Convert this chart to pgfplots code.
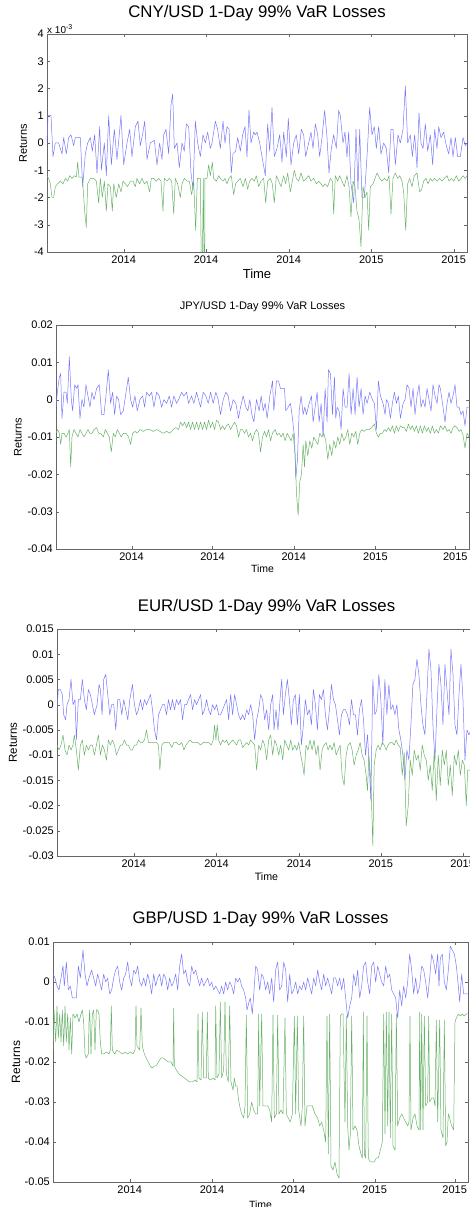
\documentclass[border=0pt]{standalone}
\usepackage{fontspec}
\setmainfont{Liberation Sans}
\usepackage{pgfplots}
\pgfplotsset{compat=1.18}
\definecolor{retblue}{RGB}{120,120,250}
\definecolor{vargreen}{RGB}{105,178,105}
\pgfplotsset{
  matlab/.style={
    scale only axis, anchor=south west,
    tick align=inside, major tick length=3pt,
    axis line style={black!60}, tick style={black!60},
    scaled y ticks=false, scaled x ticks=false,
    xtick={#1}, xticklabels={2014,2014,2014,2015,2015},
    xticklabel style={anchor=north, inner sep=0pt, yshift=-4pt},
    yticklabel style={anchor=east, inner sep=0pt, xshift=-3pt},
    every axis plot/.append style={line width=0.5pt, line join=round},
    clip mode=individual,
  },
}
\begin{document}
\begin{tikzpicture}
\useasboundingbox (0,0) rectangle (470pt,1207pt);
% ---------------- CNY ----------------
\begin{axis}[matlab={370,617,865,1113,1360},
  at={(47pt,955pt)}, width=420pt, height=218pt,
  xmin=140, xmax=1400, ymin=-4, ymax=4,
  ytick={-4,-3,-2,-1,0,1,2,3,4}, yticklabels={-4,-3,-2,-1,0,1,2,3,4},
  ticklabel style={font=\fontsize{11}{13}\selectfont},
  title={CNY/USD 1-Day 99\% VaR Losses},
  title style={font=\fontsize{16.8}{19}\selectfont, at={(axis description cs:0.5,1.069)}, anchor=center},
  xlabel={Time}, xlabel style={font=\fontsize{13}{15}\selectfont, at={(axis description cs:0.5,-0.101)}, anchor=center},
  ylabel={Returns}, ylabel style={font=\fontsize{11}{13}\selectfont, at={(axis description cs:-0.057,0.5)}, anchor=center},
]
\addplot[retblue] coordinates {(140,0)(143,1.0)(152,1.0)(158,-0.5)(165,0)(175,0)(185,-0.4)(190,0.2)(198,-0.4)(205,0.2)(212,0.3)(220,-0.1)(225,0.2)(232,0.2)(240,0.2)(247,-1.6)(255,-0.4)(262,0)(270,0.2)(276,-0.3)(283,0.3)(290,-1.1)(298,0.6)(303,-1.0)(312,0)(318,-1.2)(325,1.0)(333,-0.8)(342,0.5)(350,-0.6)(362,1.0)(370,-0.8)(380,0)(388,0.5)(395,-0.5)(405,0.6)(413,0.8)(420,-0.1)(428,0.4)(433,0.8)(440,-0.6)(450,0)(462,0.1)(470,-0.8)(478,0)(485,-0.6)(490,0.3)(497,0.5)(505,-0.4)(512,1.4)(517,1.8)(522,-0.2)(530,0)(537,-0.9)(545,0)(552,-0.3)(558,0.7)(565,0.6)(572,-1.1)(578,-1.7)(585,0.8)(592,0)(600,-0.5)(608,0.3)(615,0)(622,0.4)(630,-0.2)(635,0)(645,0.8)(652,0.5)(660,-0.2)(668,0.8)(674,0)(680,0.6)(686,0.5)(693,-1.1)(698,-0.4)(706,-0.3)(712,0.2)(720,-0.3)(727,0.3)(734,0.6)(740,-0.5)(746,1.2)(752,0)(760,0.4)(765,0.3)(770,0.4)(778,0)(785,-0.5)(795,-1.2)(802,0.7)(808,-0.3)(815,1.3)(822,-0.5)(830,-0.2)(838,0.3)(845,-0.7)(850,0.4)(858,-0.5)(864,0.9)(872,-0.8)(880,0)(888,0.3)(895,-0.4)(903,0.5)(910,0.3)(916,-0.5)(925,0)(932,0.4)(938,-0.2)(945,0.7)(952,0.3)(958,-0.5)(965,0.2)(973,1.2)(980,0.2)(986,-1.1)(993,-0.2)(1000,0.3)(1008,-0.2)(1015,1.2)(1020,1.0)(1028,0)(1034,0.4)(1040,-0.5)(1045,0.4)(1052,-1.5)(1060,-2.2)(1067,0.5)(1073,-1.7)(1078,0.5)(1085,-2.0)(1092,-2.0)(1100,-0.5)(1108,1.3)(1115,0.3)(1122,0.6)(1128,-0.2)(1135,0.6)(1142,-0.4)(1150,0)(1158,-0.2)(1165,-1.1)(1172,0.5)(1178,0.5)(1185,-0.8)(1193,0.3)(1200,0)(1208,0.5)(1215,2.1)(1222,0)(1230,0.3)(1236,-0.5)(1243,0.3)(1250,-0.9)(1256,1.1)(1262,0)(1268,-0.2)(1275,0.7)(1282,-0.3)(1290,0.3)(1297,-0.8)(1303,0.5)(1310,-0.2)(1315,0.6)(1322,0.2)(1330,0.4)(1338,-0.1)(1345,-0.4)(1352,0.2)(1358,-0.5)(1365,0.2)(1372,-0.5)(1380,-0.5)(1388,0.2)(1395,-0.1)(1400,0)};
\addplot[vargreen] coordinates {(140,-1.2)(145,-1.3)(150,-1.5)(155,-2.0)(160,-2.0)(165,-1.6)(172,-1.5)(180,-1.4)(188,-1.5)(195,-1.3)(202,-1.4)(208,-1.2)(215,-1.3)(222,-1.2)(228,-1.25)(232,-0.7)(236,-1.25)(245,-1.25)(248,-1.6)(253,-2.5)(258,-3.1)(262,-1.5)(270,-1.3)(280,-1.3)(288,-1.4)(295,-2.2)(300,-1.3)(306,-2.0)(312,-1.4)(318,-2.5)(323,-1.5)(330,-1.6)(336,-2.5)(340,-1.5)(348,-2.0)(355,-1.5)(362,-1.8)(368,-1.4)(375,-1.5)(382,-1.6)(390,-1.4)(398,-1.4)(405,-1.6)(410,-1.3)(418,-1.5)(425,-1.3)(432,-1.5)(440,-1.4)(448,-1.8)(453,-1.3)(460,-1.3)(468,-1.4)(475,-1.3)(482,-1.4)(488,-2.5)(492,-1.3)(500,-1.4)(507,-1.3)(514,-1.4)(520,-2.6)(525,-1.3)(532,-1.5)(540,-2.0)(545,-1.5)(552,-1.3)(560,-1.4)(567,-1.4)(574,-1.9)(580,-1.4)(586,-3.2)(591,-1.3)(597,-1.3)(600,-1.3)(603,-4.5)(606,-4.5)(609,-1.3)(611,-4.5)(613,-4.5)(614,-1.3)(620,-1.3)(625,-0.8)(630,-1.2)(636,-0.7)(640,-1.3)(648,-1.4)(655,-1.2)(660,-1.3)(668,-1.4)(674,-1.3)(680,-1.5)(686,-1.3)(693,-1.2)(700,-1.9)(706,-1.5)(712,-1.4)(720,-1.3)(728,-1.6)(735,-1.3)(742,-1.7)(748,-1.4)(755,-1.3)(762,-1.4)(768,-1.2)(775,-1.6)(782,-1.4)(790,-1.3)(796,-2.2)(802,-1.4)(810,-1.3)(816,-1.5)(822,-2.2)(828,-1.2)(835,-1.4)(842,-1.6)(850,-1.2)(856,-1.5)(862,-1.1)(870,-1.8)(876,-1.4)(882,-1.0)(888,-1.3)(895,-1.4)(902,-1.1)(910,-1.4)(918,-1.3)(925,-1.2)(932,-1.4)(940,-1.3)(948,-1.5)(955,-1.4)(962,-1.5)(968,-1.6)(975,-1.5)(982,-1.6)(990,-1.3)(996,-1.4)(1000,-2.6)(1005,-1.2)(1012,-1.4)(1018,-1.2)(1025,-1.4)(1032,-1.6)(1040,-1.2)(1046,-1.6)(1052,-2.7)(1058,-1.4)(1064,-1.6)(1070,-2.5)(1076,-2.8)(1082,-3.8)(1088,-1.6)(1094,-2.0)(1100,-1.8)(1105,-3.2)(1110,-1.6)(1118,-1.5)(1124,-1.3)(1130,-1.1)(1138,-1.3)(1145,-1.4)(1152,-1.3)(1160,-1.4)(1166,-1.2)(1172,-2.6)(1178,-1.3)(1185,-1.1)(1192,-1.3)(1198,-1.2)(1205,-1.4)(1210,-1.8)(1216,-3.2)(1222,-1.5)(1228,-1.3)(1235,-1.6)(1242,-1.2)(1250,-1.1)(1258,-1.8)(1264,-1.7)(1270,-1.4)(1277,-1.3)(1283,-1.5)(1290,-1.3)(1296,-1.4)(1303,-1.3)(1310,-1.4)(1318,-1.3)(1325,-1.4)(1332,-1.3)(1340,-1.2)(1346,-1.4)(1353,-1.3)(1360,-1.4)(1368,-1.2)(1375,-1.4)(1382,-1.3)(1388,-1.2)(1395,-1.3)(1400,-1.2)};
\node[anchor=south west, inner sep=0pt, font=\fontsize{10}{12}\selectfont] at (rel axis cs:0,1) {x 10\raisebox{0.7ex}{\fontsize{7}{8}\selectfont -3}};
\end{axis}
% ---------------- JPY ----------------
\begin{axis}[matlab={395,638,882,1127,1367},
  at={(56pt,658pt)}, width=413pt, height=224pt,
  xmin=168, xmax=1408, ymin=-0.04, ymax=0.02,
  ytick={-0.04,-0.03,-0.02,-0.01,0,0.01,0.02}, yticklabels={-0.04,-0.03,-0.02,-0.01,0,0.01,0.02},
  ticklabel style={font=\fontsize{11}{13}\selectfont},
  title={JPY/USD 1-Day 99\% VaR Losses},
  title style={font=\fontsize{11}{13}\selectfont, at={(axis description cs:0.5,1.054)}, anchor=center},
  xlabel={Time}, xlabel style={font=\fontsize{10.5}{12}\selectfont, at={(axis description cs:0.5,-0.089)}, anchor=center},
  ylabel={Returns}, ylabel style={font=\fontsize{11}{13}\selectfont, at={(axis description cs:-0.092,0.5)}, anchor=center},
]
\addplot[retblue] coordinates {(168,-0.002)(172,0.002)(178,0.006)(182,0.007)(186,-0.005)(192,0.002)(198,0.002)(202,-0.001)(208,0.0115)(214,0)(218,-0.003)(224,0.004)(230,0.003)(234,0.004)(240,-0.005)(246,0)(252,-0.002)(258,0.004)(264,0.001)(270,-0.002)(276,0.002)(282,0)(290,0.003)(298,0.004)(305,-0.004)(312,-0.004)(318,0.001)(325,0.008)(332,-0.001)(338,0.002)(344,-0.004)(350,0.001)(356,0)(362,-0.004)(370,-0.003)(380,0.003)(385,0.006)(392,0)(398,-0.002)(405,0.001)(412,-0.003)(420,0)(428,0.001)(434,-0.002)(440,0.002)(448,0.001)(455,0.002)(462,-0.002)(470,0.002)(478,0.001)(485,-0.002)(492,0)(500,-0.001)(508,0.001)(515,-0.002)(522,0.001)(530,-0.001)(536,0)(545,0.002)(552,0.001)(560,0.002)(566,-0.001)(575,0.001)(582,-0.001)(590,0.002)(596,0)(602,-0.002)(610,0.002)(618,0.001)(625,-0.001)(632,0.002)(640,-0.001)(648,0.002)(655,0)(662,-0.004)(670,0)(678,0.002)(685,0.001)(692,-0.003)(700,0)(708,-0.001)(716,-0.005)(722,-0.002)(730,0.001)(738,-0.002)(744,-0.003)(750,0)(756,-0.004)(762,-0.006)(770,0)(778,-0.003)(784,0.001)(790,-0.003)(796,-0.001)(802,-0.005)(810,0.001)(818,0.005)(822,-0.003)(830,0.005)(836,0.005)(842,0.003)(848,0.003)(854,0.003)(858,-0.003)(865,-0.002)(872,-0.001)(878,-0.005)(884,-0.010)(888,-0.021)(893,-0.016)(898,-0.003)(904,0.001)(910,-0.004)(915,-0.002)(920,-0.004)(928,-0.001)(935,0.001)(940,-0.006)(946,-0.002)(952,0.002)(958,-0.006)(964,-0.001)(970,-0.010)(976,0.003)(982,-0.006)(986,0.008)(992,0.007)(998,-0.004)(1004,0.006)(1008,-0.005)(1012,-0.002)(1018,-0.003)(1024,-0.008)(1030,0.003)(1036,-0.002)(1042,-0.002)(1048,0.007)(1054,-0.004)(1060,0.003)(1066,-0.004)(1072,0.006)(1078,-0.002)(1084,0.003)(1090,-0.004)(1096,0.001)(1102,-0.001)(1110,0.002)(1118,0)(1124,-0.001)(1130,-0.008)(1136,0.005)(1142,0.001)(1150,-0.001)(1156,-0.004)(1160,0)(1166,-0.001)(1172,-0.005)(1178,-0.001)(1184,0.002)(1190,-0.001)(1196,0.001)(1202,-0.005)(1210,-0.001)(1216,0)(1222,0.004)(1228,0.003)(1234,-0.002)(1240,0.003)(1246,-0.004)(1252,0.001)(1258,0.004)(1264,-0.002)(1270,0)(1276,-0.002)(1282,0.003)(1288,0)(1294,-0.003)(1300,0.004)(1306,0.001)(1312,-0.001)(1318,0.004)(1322,0.003)(1330,-0.002)(1336,-0.006)(1342,-0.001)(1348,0.002)(1354,-0.001)(1360,0.001)(1366,0.004)(1372,-0.002)(1378,-0.002)(1384,-0.004)(1390,-0.003)(1396,-0.007)(1402,-0.002)(1408,-0.002)};
\addplot[vargreen] coordinates {(168,-0.009)(172,-0.008)(178,-0.009)(182,-0.012)(186,-0.009)(192,-0.009)(198,-0.010)(204,-0.009)(208,-0.008)(212,-0.018)(216,-0.010)(222,-0.008)(228,-0.009)(234,-0.010)(240,-0.008)(246,-0.009)(252,-0.010)(258,-0.009)(264,-0.008)(270,-0.009)(276,-0.009)(282,-0.008)(290,-0.0075)(296,-0.009)(302,-0.009)(310,-0.010)(316,-0.008)(322,-0.009)(328,-0.010)(334,-0.014)(340,-0.009)(346,-0.010)(352,-0.008)(358,-0.009)(364,-0.010)(370,-0.009)(378,-0.009)(386,-0.010)(392,-0.012)(398,-0.009)(405,-0.0085)(412,-0.009)(420,-0.008)(430,-0.0085)(440,-0.008)(450,-0.008)(460,-0.0085)(470,-0.008)(480,-0.0085)(490,-0.009)(500,-0.0085)(510,-0.009)(520,-0.008)(528,-0.0075)(536,-0.008)(542,-0.006)(548,-0.007)(554,-0.006)(560,-0.0075)(566,-0.006)(572,-0.008)(578,-0.006)(584,-0.008)(590,-0.006)(596,-0.008)(602,-0.006)(608,-0.008)(614,-0.006)(620,-0.008)(626,-0.0055)(632,-0.0075)(638,-0.006)(644,-0.008)(650,-0.0055)(656,-0.006)(662,-0.008)(668,-0.007)(674,-0.008)(680,-0.007)(686,-0.0065)(692,-0.008)(698,-0.007)(704,-0.006)(710,-0.007)(716,-0.010)(722,-0.008)(728,-0.008)(734,-0.009)(740,-0.008)(746,-0.010)(752,-0.009)(758,-0.011)(764,-0.009)(770,-0.008)(776,-0.009)(782,-0.014)(788,-0.010)(794,-0.0085)(800,-0.010)(806,-0.008)(812,-0.011)(818,-0.009)(826,-0.008)(832,-0.0095)(838,-0.009)(844,-0.010)(850,-0.009)(856,-0.011)(862,-0.009)(868,-0.010)(874,-0.011)(880,-0.009)(886,-0.015)(890,-0.025)(895,-0.031)(900,-0.022)(905,-0.020)(910,-0.012)(914,-0.018)(918,-0.011)(924,-0.015)(930,-0.011)(936,-0.013)(942,-0.010)(948,-0.011)(954,-0.012)(960,-0.009)(966,-0.010)(972,-0.009)(978,-0.011)(984,-0.016)(990,-0.012)(996,-0.015)(1002,-0.011)(1008,-0.013)(1014,-0.010)(1020,-0.012)(1026,-0.009)(1032,-0.011)(1038,-0.010)(1044,-0.008)(1050,-0.012)(1056,-0.009)(1062,-0.010)(1068,-0.0085)(1074,-0.012)(1080,-0.009)(1086,-0.008)(1092,-0.0085)(1100,-0.008)(1108,-0.008)(1116,-0.0075)(1124,-0.0065)(1130,-0.009)(1136,-0.010)(1142,-0.009)(1148,-0.009)(1154,-0.008)(1160,-0.0085)(1166,-0.0075)(1172,-0.0085)(1178,-0.007)(1184,-0.009)(1190,-0.007)(1196,-0.0085)(1202,-0.007)(1208,-0.0075)(1214,-0.0075)(1220,-0.0085)(1226,-0.0065)(1232,-0.008)(1238,-0.007)(1244,-0.0085)(1250,-0.007)(1256,-0.009)(1262,-0.007)(1268,-0.009)(1274,-0.007)(1280,-0.0085)(1286,-0.0075)(1292,-0.009)(1298,-0.007)(1304,-0.009)(1310,-0.008)(1316,-0.009)(1322,-0.007)(1330,-0.008)(1336,-0.007)(1342,-0.0085)(1348,-0.008)(1354,-0.009)(1360,-0.0075)(1366,-0.007)(1372,-0.0075)(1378,-0.0085)(1384,-0.008)(1390,-0.0095)(1396,-0.013)(1402,-0.009)(1408,-0.010)};
\end{axis}
% ---------------- EUR ----------------
\begin{axis}[matlab={400,648,895,1140,1385},
  at={(57pt,351pt)}, width=419pt, height=227pt,
  xmin=170, xmax=1425, ymin=-0.03, ymax=0.015,
  ytick={-0.03,-0.025,-0.02,-0.015,-0.01,-0.005,0,0.005,0.01,0.015}, yticklabels={-0.03,-0.025,-0.02,-0.015,-0.01,-0.005,0,0.005,0.01,0.015},
  ticklabel style={font=\fontsize{11}{13}\selectfont},
  title={EUR/USD 1-Day 99\% VaR Losses},
  title style={font=\fontsize{16.8}{19}\selectfont, at={(axis description cs:0.5,1.0705)}, anchor=center},
  xlabel={Time}, xlabel style={font=\fontsize{10.7}{12}\selectfont, at={(axis description cs:0.5,-0.0925)}, anchor=center},
  ylabel={Returns}, ylabel style={font=\fontsize{11.5}{13}\selectfont, at={(axis description cs:-0.105,0.5)}, anchor=center},
]
\addplot[retblue] coordinates {(170,-0.001)(174,0.003)(180,0.003)(186,0.002)(190,-0.002)(196,-0.003)(200,0)(206,0.001)(212,0.005)(218,0)(224,0.001)(228,-0.007)(234,0.001)(240,0.001)(246,0.005)(252,0.001)(258,-0.001)(264,0.003)(270,0.002)(276,0)(282,-0.002)(290,0)(296,0.004)(300,0.003)(305,-0.002)(310,0.005)(316,0.006)(322,0.002)(328,-0.002)(334,0)(340,0)(346,-0.005)(352,0.001)(358,0.001)(364,-0.002)(370,0.001)(376,-0.001)(382,-0.003)(388,0.001)(396,0.004)(402,0)(408,-0.002)(414,-0.001)(420,0.001)(426,-0.001)(432,0.001)(438,0)(444,0.001)(450,0.002)(456,-0.001)(462,-0.005)(468,-0.007)(474,-0.002)(480,-0.001)(486,0)(492,0)(498,-0.002)(504,0.001)(510,-0.001)(516,0.001)(522,-0.001)(528,0.001)(534,0)(540,0.001)(546,-0.003)(552,0)(558,0)(564,0.001)(570,0.002)(576,-0.001)(582,0.001)(588,0)(594,0.001)(600,0.002)(606,-0.002)(612,-0.001)(618,0.001)(624,-0.001)(630,-0.002)(636,0)(642,-0.001)(648,0)(654,-0.002)(660,-0.002)(666,-0.001)(672,0)(678,0.001)(684,-0.003)(690,0.002)(696,-0.002)(702,0.002)(708,0)(714,-0.002)(720,-0.003)(726,-0.002)(732,-0.003)(738,-0.001)(744,-0.002)(750,0)(756,-0.002)(762,-0.007)(768,-0.003)(774,-0.001)(780,0.002)(786,0.001)(792,-0.003)(798,-0.001)(804,-0.005)(810,0)(816,0.002)(820,-0.005)(826,-0.001)(832,-0.005)(838,0.001)(843,0.005)(848,-0.002)(854,0.002)(860,0.005)(866,0.001)(872,-0.004)(878,0.001)(884,0.002)(890,-0.004)(896,0.002)(902,-0.008)(908,-0.004)(914,0.001)(920,-0.002)(926,-0.001)(932,-0.004)(938,0.003)(944,0)(950,-0.005)(956,0.002)(962,0.001)(968,0.003)(974,-0.002)(980,-0.005)(986,-0.001)(992,0.004)(998,0.001)(1004,0)(1010,-0.003)(1016,-0.006)(1022,-0.002)(1028,-0.001)(1034,-0.001)(1040,-0.002)(1046,-0.004)(1052,0.001)(1058,-0.002)(1064,-0.002)(1070,-0.006)(1076,-0.001)(1082,0.001)(1088,-0.003)(1094,-0.010)(1100,-0.006)(1106,-0.013)(1110,-0.019)(1116,0.005)(1122,-0.002)(1128,-0.001)(1134,0.006)(1140,0.001)(1146,-0.008)(1152,0.005)(1158,-0.002)(1164,0.004)(1170,-0.001)(1176,0)(1182,-0.002)(1188,0)(1194,-0.005)(1200,-0.007)(1206,-0.010)(1212,-0.015)(1218,-0.009)(1224,-0.011)(1230,-0.004)(1236,0.004)(1242,0.005)(1248,0.009)(1254,0.006)(1260,0)(1266,-0.004)(1272,-0.006)(1278,0.002)(1284,0.011)(1290,0.007)(1296,-0.004)(1302,-0.011)(1308,-0.001)(1314,0.008)(1320,0.004)(1326,-0.004)(1332,0.008)(1338,0.003)(1344,-0.002)(1350,0.011)(1356,0.006)(1362,-0.004)(1368,-0.006)(1374,0.002)(1380,0.008)(1386,0.001)(1392,-0.011)(1398,-0.005)(1404,-0.006)(1410,-0.005)(1420,-0.005)};
\addplot[vargreen] coordinates {(170,-0.008)(176,-0.009)(182,-0.008)(188,-0.006)(194,-0.009)(200,-0.010)(206,-0.008)(212,-0.009)(218,-0.008)(222,-0.006)(228,-0.009)(234,-0.013)(240,-0.008)(246,-0.007)(252,-0.010)(258,-0.008)(264,-0.009)(270,-0.008)(276,-0.008)(282,-0.010)(288,-0.008)(294,-0.006)(300,-0.010)(306,-0.008)(312,-0.009)(318,-0.011)(324,-0.007)(330,-0.008)(336,-0.007)(342,-0.008)(348,-0.010)(354,-0.009)(360,-0.008)(366,-0.008)(372,-0.007)(378,-0.008)(384,-0.008)(390,-0.009)(396,-0.009)(402,-0.008)(408,-0.008)(414,-0.007)(420,-0.0075)(426,-0.0075)(432,-0.007)(438,-0.005)(444,-0.0075)(450,-0.0075)(456,-0.0075)(462,-0.0075)(468,-0.0075)(474,-0.008)(478,-0.013)(484,-0.008)(490,-0.0075)(498,-0.0075)(506,-0.0075)(514,-0.0085)(520,-0.0075)(528,-0.0075)(536,-0.008)(544,-0.0075)(550,-0.009)(556,-0.008)(562,-0.0075)(568,-0.007)(576,-0.0075)(584,-0.0075)(592,-0.0075)(600,-0.008)(608,-0.0075)(616,-0.0075)(624,-0.0075)(632,-0.008)(638,-0.007)(642,-0.004)(646,-0.007)(650,-0.004)(654,-0.007)(660,-0.008)(666,-0.007)(672,-0.0075)(678,-0.007)(684,-0.008)(690,-0.0075)(696,-0.007)(702,-0.0075)(708,-0.008)(714,-0.007)(720,-0.007)(726,-0.0085)(732,-0.008)(738,-0.0075)(744,-0.008)(750,-0.007)(756,-0.0075)(762,-0.008)(768,-0.013)(774,-0.008)(780,-0.009)(786,-0.007)(792,-0.008)(798,-0.011)(804,-0.007)(810,-0.006)(816,-0.010)(822,-0.007)(828,-0.008)(834,-0.010)(840,-0.008)(846,-0.011)(852,-0.007)(858,-0.008)(864,-0.009)(870,-0.007)(876,-0.009)(882,-0.008)(888,-0.009)(894,-0.0075)(900,-0.010)(906,-0.012)(910,-0.014)(916,-0.008)(922,-0.009)(928,-0.007)(934,-0.009)(940,-0.007)(946,-0.010)(952,-0.008)(958,-0.013)(964,-0.009)(970,-0.008)(976,-0.0075)(982,-0.009)(988,-0.008)(994,-0.009)(1000,-0.0075)(1006,-0.010)(1012,-0.009)(1018,-0.008)(1024,-0.014)(1030,-0.016)(1036,-0.010)(1042,-0.008)(1048,-0.0075)(1054,-0.009)(1060,-0.012)(1066,-0.010)(1072,-0.009)(1078,-0.0075)(1084,-0.010)(1090,-0.011)(1096,-0.014)(1100,-0.017)(1104,-0.010)(1110,-0.015)(1116,-0.028)(1120,-0.012)(1126,-0.009)(1132,-0.008)(1138,-0.009)(1144,-0.0075)(1150,-0.008)(1156,-0.009)(1162,-0.008)(1168,-0.0075)(1174,-0.0075)(1180,-0.008)(1186,-0.007)(1192,-0.008)(1198,-0.0085)(1204,-0.014)(1210,-0.0095)(1216,-0.024)(1222,-0.020)(1228,-0.011)(1234,-0.014)(1240,-0.009)(1246,-0.011)(1252,-0.010)(1258,-0.013)(1264,-0.008)(1270,-0.010)(1276,-0.011)(1282,-0.015)(1288,-0.012)(1294,-0.017)(1300,-0.009)(1306,-0.019)(1312,-0.010)(1318,-0.016)(1324,-0.009)(1330,-0.012)(1336,-0.009)(1342,-0.016)(1348,-0.012)(1354,-0.018)(1360,-0.010)(1366,-0.012)(1372,-0.009)(1378,-0.014)(1384,-0.011)(1390,-0.012)(1396,-0.020)(1400,-0.013)(1408,-0.013)(1420,-0.012)};
\end{axis}
% ---------------- GBP ----------------
\begin{axis}[matlab={390,637,880,1125,1365},
  at={(53pt,25pt)}, width=415pt, height=240pt,
  xmin=160, xmax=1405, ymin=-0.05, ymax=0.01,
  ytick={-0.05,-0.04,-0.03,-0.02,-0.01,0,0.01}, yticklabels={-0.05,-0.04,-0.03,-0.02,-0.01,0,0.01},
  ticklabel style={font=\fontsize{11}{13}\selectfont},
  title={GBP/USD 1-Day 99\% VaR Losses},
  title style={font=\fontsize{16.7}{19}\selectfont, at={(axis description cs:0.5,1.071)}, anchor=center},
  xlabel={Time}, xlabel style={font=\fontsize{10.5}{12}\selectfont, at={(axis description cs:0.5,-0.096)}, anchor=center},
  ylabel={Returns}, ylabel style={font=\fontsize{12}{14}\selectfont, at={(axis description cs:-0.089,0.5)}, anchor=center},
]
\addplot[retblue] coordinates {(160,0.002)(166,0.001)(172,-0.001)(178,-0.002)(184,0.001)(190,0.004)(194,-0.001)(200,0.005)(206,-0.002)(212,-0.001)(218,-0.004)(224,-0.004)(230,-0.004)(236,0.004)(242,0.001)(250,0.008)(256,0.002)(262,-0.001)(268,0.001)(276,0.003)(282,0.001)(288,-0.001)(294,0.002)(300,0)(306,-0.002)(312,0.002)(318,0)(324,0.001)(330,-0.003)(336,-0.002)(342,0.001)(348,0.003)(354,0.004)(360,0)(366,-0.002)(372,0.001)(378,0.002)(384,0.005)(390,0.001)(396,-0.001)(402,0.003)(408,0.002)(414,0.004)(420,0)(426,-0.001)(432,0.001)(438,-0.001)(444,0.002)(450,0)(456,-0.003)(462,0.002)(468,-0.001)(474,0.001)(480,0.002)(486,-0.001)(492,0.002)(498,0.001)(504,-0.002)(510,0.001)(516,-0.001)(522,0)(528,0.002)(534,-0.002)(540,0.004)(546,0.007)(552,0.002)(558,0.003)(564,0)(570,-0.001)(576,0.004)(582,0.002)(588,0.003)(594,0.001)(600,-0.001)(606,0.001)(612,-0.001)(618,0)(624,0.001)(630,-0.001)(636,0)(642,-0.002)(648,-0.001)(654,-0.002)(660,-0.003)(666,-0.001)(672,-0.003)(678,0)(684,-0.002)(690,0)(696,-0.001)(702,-0.003)(708,0.001)(714,0)(720,0.001)(726,-0.001)(732,-0.002)(738,-0.004)(742,-0.007)(748,-0.005)(752,-0.004)(758,-0.008)(764,-0.001)(768,0.004)(774,0.003)(780,-0.002)(786,0.002)(792,0.001)(798,-0.002)(804,0)(810,-0.003)(816,0.001)(822,-0.005)(828,0.003)(834,0.005)(840,-0.002)(846,-0.001)(852,0.005)(858,0.003)(864,-0.005)(870,0.002)(876,-0.003)(882,-0.002)(888,0)(894,-0.003)(900,-0.001)(906,-0.002)(912,0)(918,-0.002)(924,0.001)(930,-0.001)(936,-0.003)(942,0.001)(948,-0.001)(954,0.003)(960,0)(966,-0.002)(972,0.002)(978,-0.001)(984,0.001)(990,-0.001)(996,-0.003)(1002,0.001)(1008,0.001)(1014,-0.001)(1020,0.001)(1026,-0.002)(1032,0.001)(1038,-0.004)(1044,-0.009)(1050,-0.006)(1056,-0.004)(1062,0.002)(1068,-0.001)(1074,0.003)(1080,-0.004)(1086,-0.001)(1092,0.004)(1098,0.005)(1104,0)(1110,-0.003)(1116,0.004)(1122,0.005)(1128,0)(1134,0.004)(1140,0.002)(1146,0)(1152,-0.001)(1158,0.004)(1164,0.001)(1170,0.002)(1176,-0.002)(1182,-0.003)(1188,-0.004)(1194,-0.009)(1200,-0.002)(1206,-0.006)(1212,-0.001)(1218,-0.004)(1224,0)(1230,0.007)(1236,0.003)(1242,-0.003)(1248,0.001)(1254,-0.003)(1260,-0.001)(1266,0.004)(1272,0.003)(1278,0)(1284,-0.004)(1290,0.001)(1296,0.007)(1302,0.005)(1308,0.002)(1314,0.007)(1318,-0.001)(1322,0.006)(1328,0.007)(1334,0)(1340,-0.002)(1346,0.003)(1352,0.009)(1358,0.008)(1364,0.007)(1370,0.004)(1376,-0.001)(1380,-0.005)(1386,0.002)(1392,-0.003)(1398,-0.003)(1405,-0.003)};
\addplot[vargreen] coordinates {(160,-0.017)(163,-0.007)(168,-0.015)(172,-0.006)(176,-0.014)(180,-0.008)(184,-0.015)(188,-0.007)(192,-0.016)(196,-0.006)(200,-0.015)(204,-0.008)(208,-0.017)(212,-0.009)(216,-0.018)(220,-0.008)(226,-0.009)(232,-0.008)(238,-0.010)(244,-0.008)(248,-0.007)(252,-0.010)(256,-0.018)(260,-0.019)(266,-0.018)(268,-0.010)(270,-0.007)(274,-0.018)(278,-0.008)(282,-0.007)(286,-0.017)(290,-0.007)(294,-0.007)(298,-0.008)(302,-0.015)(306,-0.018)(312,-0.018)(320,-0.0175)(328,-0.018)(332,-0.017)(335,-0.006)(338,-0.017)(345,-0.018)(352,-0.017)(360,-0.0175)(368,-0.018)(376,-0.0175)(384,-0.018)(392,-0.0175)(400,-0.018)(406,-0.017)(409,-0.006)(412,-0.016)(420,-0.017)(424,-0.0065)(428,-0.016)(434,-0.018)(440,-0.019)(446,-0.020)(452,-0.021)(458,-0.0215)(464,-0.021)(470,-0.021)(476,-0.020)(484,-0.019)(490,-0.019)(498,-0.0195)(506,-0.020)(514,-0.020)(520,-0.021)(522,-0.0065)(524,-0.021)(530,-0.022)(538,-0.023)(546,-0.0235)(554,-0.024)(562,-0.0245)(570,-0.025)(578,-0.025)(586,-0.0245)(592,-0.025)(595,-0.008)(598,-0.024)(604,-0.0245)(608,-0.0075)(612,-0.024)(620,-0.024)(623,-0.0075)(626,-0.024)(632,-0.0245)(640,-0.024)(646,-0.0245)(648,-0.006)(652,-0.024)(658,-0.023)(662,-0.005)(666,-0.024)(672,-0.022)(676,-0.005)(680,-0.023)(686,-0.025)(690,-0.006)(694,-0.025)(700,-0.027)(704,-0.024)(708,-0.026)(712,-0.026)(716,-0.029)(720,-0.031)(726,-0.033)(732,-0.034)(736,-0.031)(740,-0.0083)(744,-0.034)(750,-0.033)(756,-0.030)(762,-0.032)(768,-0.033)(774,-0.033)(777,-0.008)(780,-0.031)(786,-0.008)(790,-0.031)(796,-0.031)(804,-0.031)(810,-0.032)(816,-0.035)(820,-0.0082)(824,-0.034)(830,-0.033)(834,-0.0083)(838,-0.033)(844,-0.032)(850,-0.033)(856,-0.009)(860,-0.033)(866,-0.034)(872,-0.035)(878,-0.033)(884,-0.0085)(888,-0.033)(893,-0.0085)(897,-0.032)(904,-0.036)(908,-0.031)(912,-0.0085)(916,-0.036)(922,-0.031)(930,-0.031)(938,-0.031)(946,-0.033)(954,-0.034)(960,-0.036)(966,-0.035)(972,-0.037)(978,-0.040)(982,-0.0085)(986,-0.043)(990,-0.008)(994,-0.046)(1000,-0.047)(1006,-0.045)(1012,-0.048)(1018,-0.049)(1022,-0.0085)(1026,-0.008)(1030,-0.008)(1036,-0.035)(1040,-0.0085)(1044,-0.036)(1048,-0.042)(1052,-0.038)(1056,-0.0085)(1060,-0.037)(1066,-0.036)(1072,-0.037)(1078,-0.041)(1084,-0.043)(1088,-0.044)(1091,-0.0075)(1094,-0.043)(1098,-0.044)(1102,-0.0085)(1106,-0.044)(1112,-0.045)(1118,-0.045)(1124,-0.045)(1130,-0.044)(1136,-0.044)(1142,-0.042)(1148,-0.040)(1152,-0.008)(1156,-0.038)(1160,-0.0075)(1164,-0.036)(1168,-0.0075)(1172,-0.039)(1176,-0.008)(1180,-0.041)(1186,-0.042)(1190,-0.008)(1194,-0.036)(1200,-0.034)(1206,-0.033)(1212,-0.034)(1218,-0.035)(1224,-0.036)(1228,-0.035)(1231,-0.0085)(1234,-0.037)(1240,-0.034)(1246,-0.033)(1252,-0.036)(1258,-0.037)(1260,-0.0075)(1263,-0.037)(1266,-0.008)(1270,-0.037)(1274,-0.0085)(1278,-0.031)(1284,-0.030)(1287,-0.0085)(1290,-0.030)(1296,-0.029)(1302,-0.029)(1306,-0.031)(1310,-0.0095)(1314,-0.035)(1320,-0.0095)(1324,-0.037)(1330,-0.039)(1334,-0.0095)(1338,-0.041)(1342,-0.040)(1346,-0.033)(1350,-0.034)(1356,-0.036)(1362,-0.037)(1366,-0.010)(1370,-0.009)(1376,-0.008)(1382,-0.0085)(1388,-0.008)(1394,-0.0085)(1400,-0.008)(1405,-0.008)};
\end{axis}
\end{tikzpicture}
\end{document}
